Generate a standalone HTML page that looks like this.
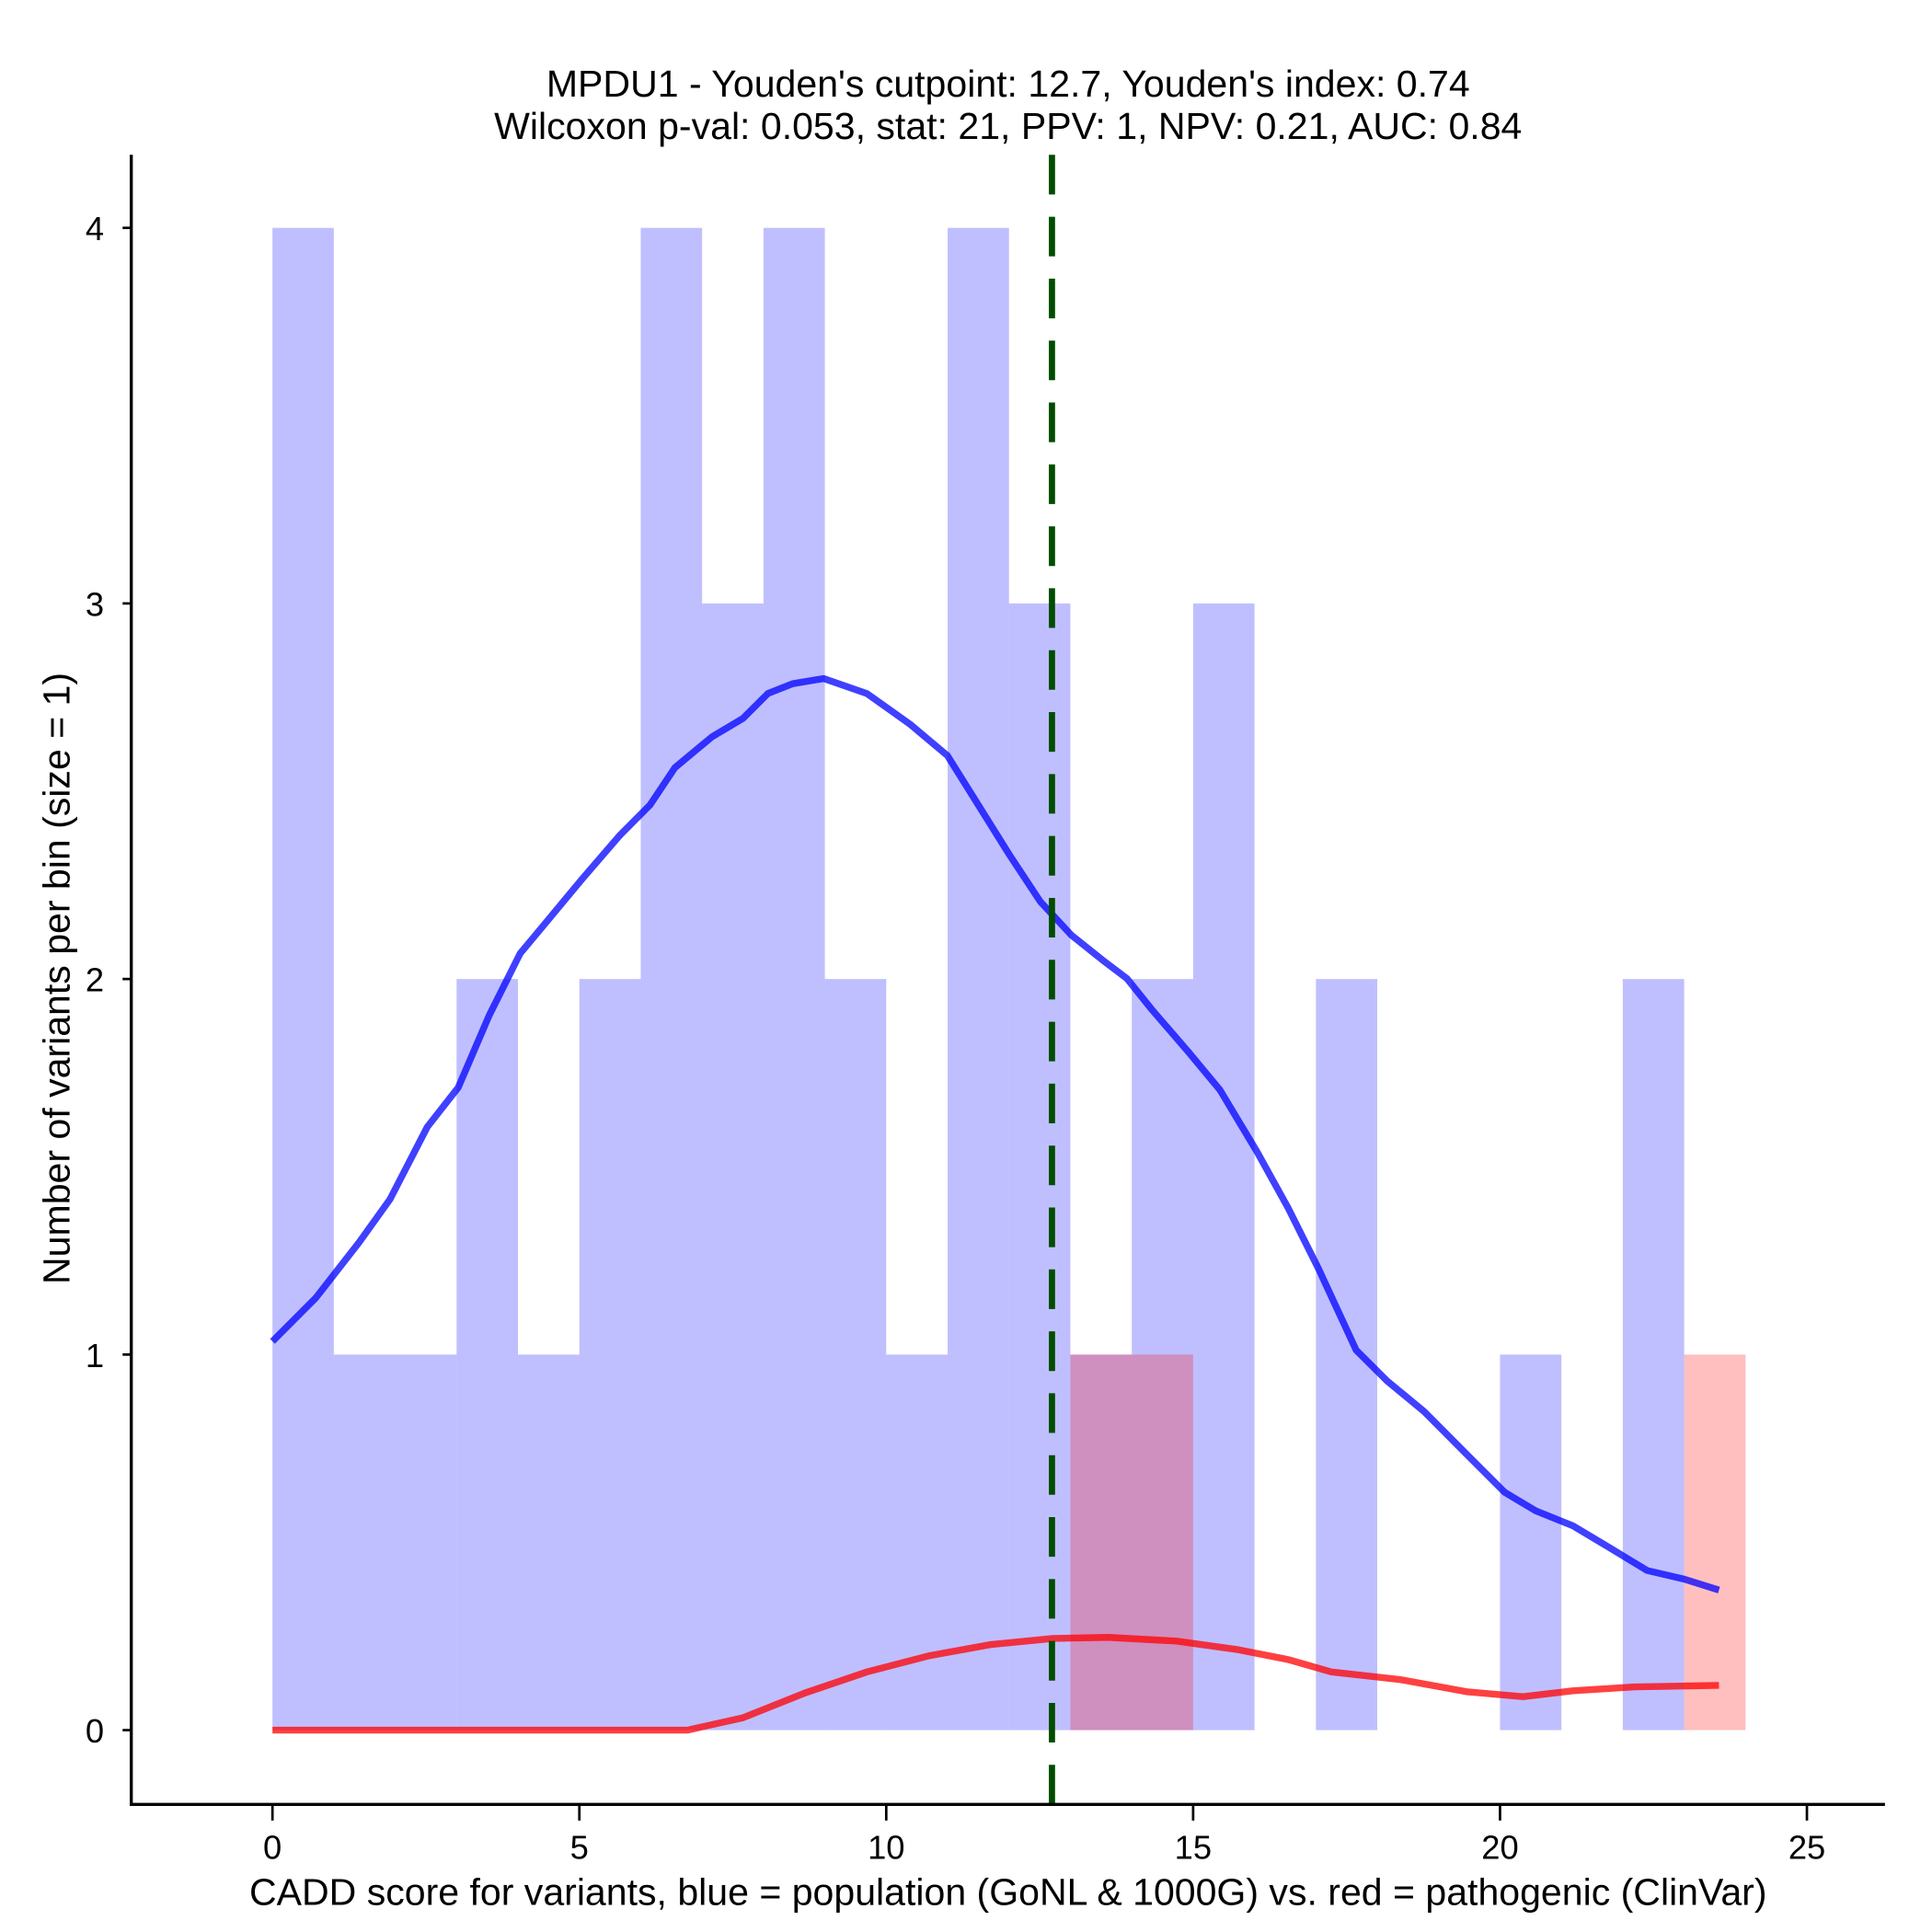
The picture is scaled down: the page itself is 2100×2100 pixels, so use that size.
<!DOCTYPE html>
<html><head><meta charset="utf-8"><style>
html,body{margin:0;padding:0;background:#fff;}
svg{display:block;font-family:"Liberation Sans",Arial,sans-serif;}
</style></head><body>
<svg id="chart" width="2100" height="2100" viewBox="0 0 1560 1560" xmlns="http://www.w3.org/2000/svg">
<g id="bars"></g>
<g id="lines"></g>
<g id="axes"></g>
<text x="814" y="78" text-anchor="middle" font-size="30.5">MPDU1 - Youden's cutpoint: 12.7, Youden's index: 0.74</text>
<text x="814" y="112" text-anchor="middle" font-size="30.5">Wilcoxon p-val: 0.053, stat: 21, PPV: 1, NPV: 0.21, AUC: 0.84</text>
<text x="814" y="1538" text-anchor="middle" font-size="30.5">CADD score for variants, blue = population (GoNL &amp; 1000G) vs. red = pathogenic (ClinVar)</text>
<text transform="translate(56,790) rotate(-90)" text-anchor="middle" font-size="30.5">Number of variants per bin (size = 1)</text>
</svg>
<script>
const blueCounts=[4,1,1,2,1,2,4,3,4,2,1,4,3,1,2,3,0,2,0,0,1,0,2,0];
const redCounts=[0,0,0,0,0,0,0,0,0,0,0,0,0,1,1,0,0,0,0,0,0,0,0,1];
const xTicks=[0,5,10,15,20,25];
const yTicks=[0,1,2,3,4];
const cutpoint=12.7;
const blueDensX=[0,0.706,1.412,1.917,2.522,3.027,3.531,4.036,4.540,5.044,5.650,6.154,6.558,7.163,7.668,8.071,8.475,8.979,9.685,10.391,10.997,11.501,12.006,12.510,13.015,13.519,13.922,14.326,14.931,15.436,16.041,16.546,17.050,17.655,18.160,18.765,19.471,20.077,20.581,21.186,21.792,22.397,23.002,23.567];
const blueDensY=[1.035,1.151,1.299,1.414,1.606,1.711,1.903,2.068,2.167,2.266,2.381,2.464,2.563,2.645,2.694,2.760,2.786,2.800,2.760,2.678,2.595,2.463,2.331,2.206,2.117,2.051,2.001,1.919,1.804,1.705,1.540,1.391,1.226,1.012,0.930,0.848,0.732,0.633,0.584,0.544,0.485,0.425,0.402,0.373];
const redDensX=[0,6.759,7.667,8.676,9.685,10.694,11.703,12.712,13.620,14.730,15.738,16.546,17.252,18.362,19.471,20.379,21.186,22.195,23.567];
const redDensY=[0,0,0.033,0.099,0.155,0.198,0.228,0.244,0.247,0.237,0.214,0.188,0.155,0.135,0.102,0.089,0.105,0.115,0.119];

const NS="http://www.w3.org/2000/svg";
const X0=220,XS=(1459-220)/25,Y0=1397,YS=(1397-184)/4;
const sx=v=>X0+v*XS, sy=v=>Y0-v*YS;
function mk(tag,attrs,parent){const e=document.createElementNS(NS,tag);for(const k in attrs)e.setAttribute(k,attrs[k]);parent.appendChild(e);return e;}
const bars=document.getElementById('bars'),lines=document.getElementById('lines'),axes=document.getElementById('axes');
blueCounts.forEach((c,i)=>{if(!c)return;
 const r=mk('rect',{x:sx(i),y:sy(c),width:XS,height:sy(0)-sy(c),fill:'rgba(0,0,255,0.25)'},bars);
 
 });
redCounts.forEach((c,i)=>{if(!c)return;
 const r=mk('rect',{x:sx(i),y:sy(c),width:XS,height:sy(0)-sy(c),fill:'rgba(255,0,0,0.25)'},bars);
 
 });
function path(xs,ys){return xs.map((x,i)=>(i?'L':'M')+sx(x).toFixed(1)+','+sy(ys[i]).toFixed(1)).join(' ');}
const bl=mk('path',{d:path(blueDensX,blueDensY),fill:'none',stroke:'rgba(0,0,255,0.75)','stroke-width':5.5,'stroke-linejoin':'round'},lines);


const rl=mk('path',{d:path(redDensX,redDensY),fill:'none',stroke:'rgba(255,0,0,0.75)','stroke-width':5.5,'stroke-linejoin':'round'},lines);


const cl=mk('line',{x1:sx(cutpoint),x2:sx(cutpoint),y1:125,y2:1457,stroke:'#004d00','stroke-width':5,'stroke-dasharray':'32,18'},lines);


const ya=mk('line',{x1:106,x2:106,y1:125,y2:1458,stroke:'#000','stroke-width':2.5},axes);


const xa=mk('line',{x1:105,x2:1522,y1:1457,y2:1457,stroke:'#000','stroke-width':2.5},axes);


xTicks.forEach(t=>{
 const tk=mk('line',{x1:sx(t),x2:sx(t),y1:1457,y2:1470,stroke:'#000','stroke-width':2},axes);
 
 
 const lb=mk('text',{x:sx(t),y:1501,'text-anchor':'middle','font-size':27},axes);lb.textContent=t;
 
 });
yTicks.forEach(t=>{
 const tk=mk('line',{x1:99,x2:106,y1:sy(t),y2:sy(t),stroke:'#000','stroke-width':2},axes);
 
 
 const lb=mk('text',{x:84,y:sy(t)+10,'text-anchor':'end','font-size':27},axes);lb.textContent=t;
 
 });
</script>
</body></html>
